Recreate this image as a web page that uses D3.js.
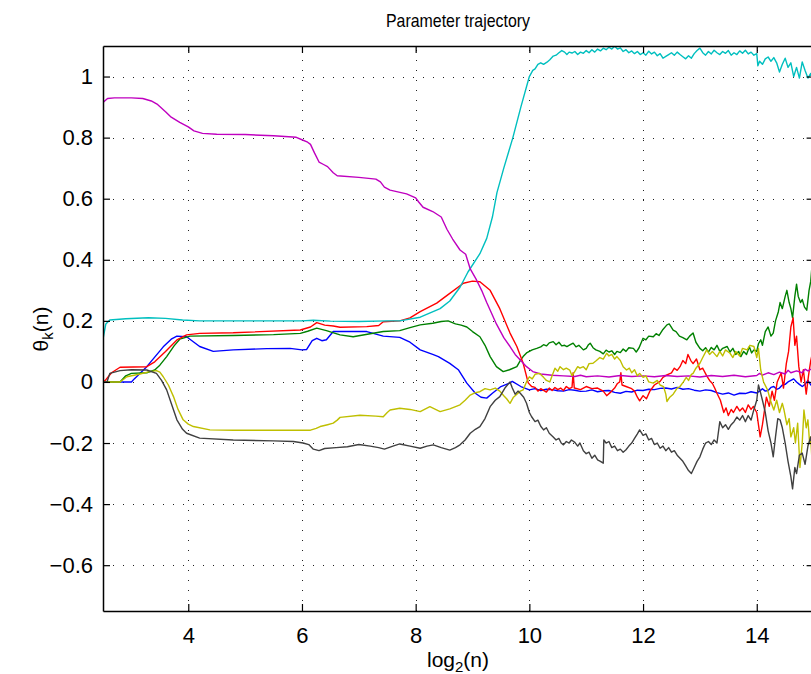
<!DOCTYPE html>
<html><head><meta charset="utf-8">
<script src="https://cdn.jsdelivr.net/npm/d3@7"></script>
<style>body{margin:0;background:#fff}text{font-family:"Liberation Sans",Arial,Helvetica,sans-serif;fill:#000}</style>
</head><body>
<svg id="c" width="811" height="674"></svg>
<script>
// ---------- data ----------
const xTicks = [4, 6, 8, 10, 12, 14];
const yTicks = [-0.6, -0.4, -0.2, 0, 0.2, 0.4, 0.6, 0.8, 1];
const xDomain = [2.5, 15];
const yDomain = [-0.75, 1.1];
const seriesNames = ["blue", "green", "red", "cyan", "magenta", "yellow", "gray"];
const seriesColors = ["#0000ff", "#008000", "#ff0000", "#00bfbf", "#bf00bf", "#bfbf00", "#404040"];

const blue = [[2.5,0],[3.0,0],[3.05,0.01],[3.27,0.05],[3.56,0.115],[3.7,0.14],[3.8,0.15],[3.97,0.148],[4.1,0.13],[4.2,0.116],[4.44,0.1],[4.79,0.105],[5.38,0.109],[5.79,0.11],[6.0,0.105],[6.08,0.106],[6.18,0.135],[6.26,0.143],[6.35,0.135],[6.43,0.138],[6.55,0.165],[7.14,0.165],[7.43,0.15],[7.72,0.146],[7.9,0.13],[8.08,0.105],[8.3,0.09],[8.4,0.083],[8.6,0.061],[8.75,0.04],[8.9,-0.004],[9.05,-0.037],[9.15,-0.05],[9.25,-0.053],[9.35,-0.037],[9.5,-0.015],[9.65,-0.004],[9.7,0.002],[9.85,-0.015],[10.0,-0.026],[10.1,-0.022],[10.2,-0.028],[10.3,-0.024],[10.4,-0.025],[10.5,-0.029],[10.6,-0.03],[10.7,-0.025],[10.8,-0.027],[10.9,-0.031],[11.0,-0.03],[11.1,-0.026],[11.2,-0.032],[11.3,-0.029],[11.4,-0.028],[11.5,-0.034],[11.6,-0.037],[11.7,-0.031],[11.8,-0.033],[11.9,-0.027],[12.0,-0.028],[12.1,-0.024],[12.2,-0.025],[12.3,-0.021],[12.4,-0.02],[12.5,-0.023],[12.6,-0.018],[12.7,-0.024],[12.8,-0.022],[12.9,-0.027],[13.0,-0.03],[13.1,-0.026],[13.2,-0.028],[13.3,-0.035],[13.4,-0.04],[13.5,-0.036],[13.6,-0.043],[13.7,-0.037],[13.8,-0.038],[13.9,-0.032],[14.0,-0.036],[14.05,-0.03],[14.1,-0.022],[14.15,-0.03],[14.2,-0.028],[14.25,-0.018],[14.3,-0.015],[14.35,-0.024],[14.4,-0.02],[14.45,-0.01],[14.5,-0.008],[14.55,0.0],[14.6,0.005],[14.65,0.01],[14.7,0.0],[14.75,-0.008],[14.8,-0.015],[14.85,-0.008],[14.9,0.005],[14.95,-0.01],[15.0,0.0]];

const green = [[2.5,0],[2.8,0],[2.9,0.02],[3.0,0.028],[3.27,0.03],[3.41,0.039],[3.5,0.055],[3.62,0.083],[3.75,0.118],[3.85,0.14],[4.03,0.15],[4.79,0.152],[5.5,0.155],[5.97,0.159],[6.1,0.166],[6.26,0.176],[6.43,0.168],[6.67,0.154],[6.9,0.148],[7.2,0.158],[7.43,0.165],[7.72,0.168],[7.9,0.178],[8.08,0.187],[8.3,0.192],[8.45,0.198],[8.57,0.2],[8.7,0.19],[8.8,0.186],[8.9,0.18],[9.0,0.165],[9.13,0.148],[9.22,0.12],[9.31,0.083],[9.42,0.05],[9.54,0.034],[9.65,0.04],[9.78,0.05],[9.84,0.07],[9.89,0.083],[9.95,0.095],[10.05,0.105],[10.13,0.11],[10.2,0.115],[10.25,0.122],[10.3,0.118],[10.35,0.128],[10.42,0.132],[10.47,0.122],[10.52,0.13],[10.57,0.118],[10.62,0.12],[10.66,0.116],[10.72,0.122],[10.77,0.127],[10.82,0.115],[10.87,0.12],[10.95,0.105],[11.0,0.11],[11.04,0.122],[11.07,0.127],[11.12,0.112],[11.17,0.105],[11.24,0.1],[11.3,0.092],[11.35,0.104],[11.4,0.098],[11.45,0.102],[11.5,0.09],[11.54,0.1],[11.6,0.096],[11.65,0.108],[11.7,0.1],[11.75,0.112],[11.83,0.11],[11.88,0.098],[11.93,0.112],[12.0,0.143],[12.05,0.138],[12.1,0.15],[12.18,0.148],[12.23,0.158],[12.28,0.152],[12.35,0.172],[12.42,0.187],[12.46,0.19],[12.53,0.17],[12.58,0.165],[12.64,0.15],[12.7,0.145],[12.77,0.138],[12.82,0.15],[12.88,0.16],[12.93,0.13],[13.0,0.11],[13.05,0.102],[13.1,0.112],[13.15,0.098],[13.2,0.113],[13.25,0.105],[13.3,0.12],[13.35,0.1],[13.4,0.11],[13.48,0.116],[13.53,0.098],[13.58,0.11],[13.63,0.09],[13.68,0.1],[13.72,0.083],[13.77,0.1],[13.82,0.09],[13.87,0.115],[13.91,0.095],[13.95,0.105],[14.0,0.1],[14.03,0.125],[14.07,0.138],[14.1,0.12],[14.15,0.165],[14.2,0.18],[14.25,0.15],[14.29,0.16],[14.33,0.2],[14.38,0.23],[14.41,0.26],[14.45,0.24],[14.5,0.28],[14.53,0.3],[14.57,0.26],[14.6,0.24],[14.63,0.21],[14.67,0.28],[14.7,0.32],[14.73,0.28],[14.77,0.26],[14.8,0.27],[14.84,0.245],[14.88,0.235],[14.92,0.3],[14.95,0.33],[14.97,0.377],[15.0,0.21]];

const red = [[2.5,0],[2.54,0.005],[2.65,0.03],[2.8,0.048],[3.27,0.05],[3.41,0.066],[3.6,0.1],[3.8,0.1375],[3.97,0.154],[4.2,0.159],[4.79,0.161],[5.97,0.17],[6.15,0.18],[6.26,0.194],[6.4,0.186],[6.55,0.183],[6.67,0.179],[7.14,0.181],[7.35,0.185],[7.43,0.197],[7.72,0.2],[7.9,0.21],[8.08,0.23],[8.37,0.258],[8.6,0.29],[8.84,0.323],[9.0,0.33],[9.13,0.328],[9.31,0.30],[9.48,0.24],[9.66,0.16],[9.78,0.116],[9.89,0.062],[9.98,-0.003],[10.04,-0.015],[10.1,-0.018],[10.15,-0.03],[10.2,-0.022],[10.3,-0.033],[10.35,-0.02],[10.4,-0.028],[10.45,-0.018],[10.5,-0.025],[10.55,-0.02],[10.6,-0.028],[10.65,-0.015],[10.7,-0.022],[10.75,-0.018],[10.77,0.03],[10.79,-0.02],[10.9,-0.025],[11.0,-0.015],[11.1,-0.022],[11.2,-0.02],[11.3,-0.03],[11.36,-0.045],[11.42,-0.035],[11.5,-0.02],[11.55,-0.005],[11.59,0.0],[11.61,0.03],[11.63,-0.01],[11.7,-0.015],[11.8,-0.022],[11.85,-0.03],[11.9,-0.05],[11.94,-0.062],[12.0,-0.045],[12.06,-0.055],[12.12,-0.03],[12.2,-0.01],[12.3,0.002],[12.35,0.015],[12.42,0.023],[12.5,0.03],[12.55,0.045],[12.6,0.038],[12.65,0.05],[12.7,0.07],[12.75,0.06],[12.79,0.09],[12.84,0.07],[12.88,0.06],[12.94,0.075],[13.0,0.04],[13.05,0.045],[13.12,0.02],[13.17,0.005],[13.22,-0.005],[13.26,-0.02],[13.3,-0.037],[13.36,-0.06],[13.42,-0.1],[13.46,-0.085],[13.5,-0.11],[13.55,-0.09],[13.59,-0.1],[13.65,-0.08],[13.7,-0.095],[13.75,-0.085],[13.8,-0.1],[13.85,-0.075],[13.9,-0.09],[13.94,-0.08],[14.0,-0.1],[14.06,-0.18],[14.1,-0.14],[14.17,-0.05],[14.22,-0.08],[14.27,-0.03],[14.31,-0.06],[14.36,0.0],[14.43,0.03],[14.47,-0.02],[14.52,0.06],[14.56,0.1],[14.6,0.18],[14.64,0.21],[14.67,0.12],[14.7,0.15],[14.74,0.05],[14.78,0.0],[14.82,0.04],[14.87,-0.04],[14.91,0.02],[14.95,0.07],[14.98,0.095],[15.0,0.1]];

const cyan = [[2.5,0.14],[2.55,0.19],[2.62,0.203],[2.9,0.207],[3.3,0.21],[3.6,0.208],[3.9,0.203],[4.2,0.2],[5,0.2],[6,0.2],[6.2,0.202],[6.5,0.199],[7,0.198],[7.5,0.2],[7.72,0.2],[8.08,0.212],[8.43,0.24],[8.6,0.265],[8.78,0.31],[8.92,0.36],[9.13,0.42],[9.25,0.47],[9.35,0.54],[9.43,0.62],[9.55,0.7],[9.71,0.80],[9.85,0.9],[10.0,1.0],[10.06,1.02],[10.1,1.025],[10.15,1.04],[10.2,1.045],[10.25,1.04],[10.31,1.047],[10.36,1.055],[10.42,1.067],[10.47,1.07],[10.52,1.078],[10.57,1.085],[10.62,1.08],[10.66,1.072],[10.7,1.08],[10.75,1.077],[10.8,1.082],[10.85,1.072],[10.9,1.08],[10.95,1.076],[11.0,1.085],[11.05,1.078],[11.1,1.088],[11.15,1.08],[11.2,1.09],[11.25,1.084],[11.3,1.093],[11.35,1.088],[11.4,1.096],[11.45,1.09],[11.5,1.099],[11.55,1.09],[11.6,1.094],[11.65,1.082],[11.7,1.088],[11.75,1.078],[11.8,1.084],[11.85,1.075],[11.9,1.082],[11.95,1.072],[12.0,1.078],[12.05,1.07],[12.1,1.083],[12.15,1.074],[12.2,1.08],[12.25,1.068],[12.3,1.075],[12.35,1.06],[12.4,1.066],[12.45,1.072],[12.5,1.078],[12.55,1.07],[12.6,1.08],[12.65,1.072],[12.7,1.065],[12.75,1.058],[12.8,1.068],[12.85,1.06],[12.9,1.075],[12.95,1.085],[13.0,1.093],[13.05,1.078],[13.1,1.07],[13.15,1.082],[13.2,1.074],[13.25,1.086],[13.3,1.078],[13.35,1.072],[13.4,1.082],[13.45,1.076],[13.5,1.085],[13.55,1.07],[13.6,1.078],[13.65,1.072],[13.7,1.084],[13.75,1.076],[13.8,1.086],[13.85,1.074],[13.9,1.08],[13.95,1.07],[14.0,1.075],[14.02,1.035],[14.05,1.05],[14.1,1.04],[14.15,1.058],[14.2,1.064],[14.25,1.05],[14.3,1.062],[14.35,1.045],[14.4,1.015],[14.45,1.04],[14.5,1.06],[14.55,1.03],[14.6,1.045],[14.65,1.0],[14.7,1.03],[14.75,0.995],[14.8,1.048],[14.85,1.02],[14.9,0.995],[14.95,1.01],[15.0,0.985]];

const magenta = [[2.5,0.915],[2.58,0.928],[2.7,0.93],[3.0,0.93],[3.2,0.928],[3.35,0.92],[3.45,0.91],[3.6,0.885],[3.7,0.867],[3.85,0.85],[4.0,0.835],[4.1,0.822],[4.25,0.814],[4.5,0.811],[5.0,0.81],[5.5,0.806],[5.9,0.801],[6.0,0.793],[6.1,0.785],[6.15,0.778],[6.22,0.75],[6.3,0.72],[6.38,0.712],[6.45,0.705],[6.55,0.685],[6.62,0.675],[7.0,0.67],[7.3,0.664],[7.38,0.655],[7.45,0.638],[7.55,0.628],[7.84,0.616],[8.0,0.603],[8.05,0.59],[8.13,0.572],[8.3,0.558],[8.45,0.54],[8.55,0.5],[8.65,0.468],[8.78,0.432],[8.88,0.418],[8.96,0.37],[9.07,0.334],[9.16,0.30],[9.25,0.26],[9.42,0.19],[9.55,0.145],[9.66,0.116],[9.75,0.09],[9.84,0.072],[9.95,0.05],[10.06,0.034],[10.2,0.026],[10.4,0.022],[10.6,0.02],[10.8,0.018],[10.9,0.022],[11.0,0.017],[11.2,0.02],[11.4,0.016],[11.6,0.021],[11.8,0.018],[12.0,0.02],[12.2,0.017],[12.4,0.021],[12.6,0.018],[12.8,0.02],[13.0,0.016],[13.2,0.021],[13.4,0.018],[13.6,0.022],[13.8,0.017],[14.0,0.021],[14.05,0.028],[14.1,0.022],[14.2,0.03],[14.3,0.024],[14.4,0.032],[14.5,0.026],[14.55,0.038],[14.6,0.03],[14.7,0.036],[14.8,0.03],[14.85,0.042],[14.9,0.036],[15.0,0.046]];

const yellow = [[2.5,0],[2.8,0],[2.92,0.017],[3.15,0.026],[3.3,0.033],[3.44,0.037],[3.5,0.032],[3.56,0.017],[3.65,-0.01],[3.74,-0.048],[3.82,-0.09],[3.91,-0.124],[4.0,-0.138],[4.09,-0.146],[4.38,-0.157],[4.79,-0.158],[6.15,-0.158],[6.25,-0.152],[6.32,-0.146],[6.45,-0.14],[6.55,-0.135],[6.62,-0.125],[6.67,-0.116],[7.02,-0.109],[7.3,-0.112],[7.43,-0.114],[7.5,-0.1],[7.55,-0.092],[7.72,-0.086],[7.9,-0.09],[8.08,-0.097],[8.25,-0.081],[8.43,-0.097],[8.6,-0.088],[8.78,-0.075],[8.87,-0.06],[8.96,-0.043],[9.05,-0.035],[9.13,-0.032],[9.22,-0.022],[9.31,-0.026],[9.4,-0.02],[9.48,-0.03],[9.55,-0.045],[9.6,-0.055],[9.66,-0.07],[9.72,-0.05],[9.78,-0.04],[9.84,-0.03],[9.89,-0.026],[9.95,0.0],[10.0,0.017],[10.05,0.01],[10.1,0.025],[10.18,0.028],[10.25,0.015],[10.3,0.005],[10.36,0.0],[10.4,0.02],[10.45,0.045],[10.5,0.035],[10.54,0.05],[10.6,0.04],[10.65,0.045],[10.71,0.039],[10.75,0.02],[10.8,0.035],[10.85,0.05],[10.89,0.045],[10.95,0.05],[11.0,0.04],[11.05,0.06],[11.12,0.061],[11.18,0.07],[11.24,0.08],[11.3,0.075],[11.36,0.094],[11.4,0.085],[11.45,0.09],[11.5,0.075],[11.54,0.083],[11.6,0.07],[11.65,0.05],[11.71,0.039],[11.76,0.045],[11.8,0.03],[11.85,0.04],[11.9,0.02],[11.94,0.028],[12.0,0.015],[12.05,0.02],[12.1,0.0],[12.18,-0.004],[12.25,0.005],[12.3,-0.01],[12.36,-0.015],[12.4,-0.04],[12.42,-0.064],[12.47,-0.05],[12.53,-0.04],[12.6,-0.02],[12.65,-0.015],[12.71,0.0],[12.76,0.015],[12.8,0.005],[12.85,0.025],[12.88,0.028],[12.93,0.045],[13.0,0.061],[13.05,0.08],[13.12,0.105],[13.17,0.09],[13.22,0.1],[13.3,0.083],[13.35,0.1],[13.4,0.085],[13.45,0.105],[13.53,0.094],[13.58,0.08],[13.63,0.1],[13.7,0.085],[13.75,0.11],[13.83,0.105],[13.88,0.12],[13.95,0.116],[14.0,0.08],[14.03,0.11],[14.07,0.039],[14.12,0.0],[14.19,-0.026],[14.24,-0.06],[14.3,-0.092],[14.35,-0.06],[14.4,-0.1],[14.45,-0.07],[14.48,-0.092],[14.53,-0.14],[14.57,-0.12],[14.6,-0.18],[14.65,-0.15],[14.68,-0.2],[14.72,-0.135],[14.76,-0.28],[14.8,-0.2],[14.83,-0.092],[14.87,-0.15],[14.9,-0.124],[14.93,-0.2],[14.95,-0.18],[14.98,-0.29],[15.0,-0.22]];

const gray = [[2.5,0],[2.57,0],[2.62,0.028],[2.8,0.037],[3.0,0.04],[3.27,0.039],[3.44,0.028],[3.53,0.005],[3.62,-0.026],[3.7,-0.07],[3.8,-0.124],[3.9,-0.155],[3.97,-0.168],[4.2,-0.184],[4.79,-0.19],[5.5,-0.193],[5.85,-0.195],[6.02,-0.2],[6.12,-0.205],[6.2,-0.22],[6.3,-0.225],[6.4,-0.218],[6.6,-0.215],[6.8,-0.212],[7.0,-0.205],[7.2,-0.21],[7.35,-0.215],[7.45,-0.22],[7.6,-0.21],[7.72,-0.203],[7.9,-0.21],[8.08,-0.217],[8.2,-0.21],[8.31,-0.206],[8.45,-0.215],[8.6,-0.223],[8.7,-0.215],[8.78,-0.206],[8.87,-0.19],[8.96,-0.168],[9.05,-0.155],[9.13,-0.146],[9.22,-0.12],[9.31,-0.081],[9.4,-0.06],[9.48,-0.048],[9.57,-0.02],[9.66,0.0],[9.7,-0.02],[9.75,-0.04],[9.8,-0.03],[9.84,-0.037],[9.9,-0.05],[9.95,-0.07],[10.0,-0.1],[10.04,-0.114],[10.1,-0.13],[10.15,-0.125],[10.2,-0.145],[10.25,-0.157],[10.3,-0.15],[10.35,-0.168],[10.42,-0.18],[10.47,-0.19],[10.52,-0.185],[10.56,-0.2],[10.6,-0.206],[10.65,-0.195],[10.7,-0.2],[10.74,-0.19],[10.8,-0.198],[10.85,-0.21],[10.89,-0.2],[10.95,-0.225],[11.0,-0.235],[11.05,-0.23],[11.1,-0.25],[11.15,-0.24],[11.2,-0.255],[11.25,-0.26],[11.3,-0.266],[11.31,-0.19],[11.35,-0.2],[11.4,-0.195],[11.45,-0.215],[11.5,-0.21],[11.55,-0.225],[11.6,-0.22],[11.65,-0.23],[11.7,-0.222],[11.75,-0.21],[11.8,-0.2],[11.85,-0.185],[11.9,-0.17],[11.94,-0.157],[12.0,-0.175],[12.05,-0.17],[12.1,-0.19],[12.15,-0.185],[12.2,-0.205],[12.25,-0.2],[12.3,-0.217],[12.35,-0.21],[12.4,-0.225],[12.45,-0.215],[12.5,-0.23],[12.55,-0.225],[12.6,-0.24],[12.65,-0.25],[12.7,-0.26],[12.75,-0.275],[12.8,-0.29],[12.85,-0.3],[12.9,-0.28],[12.95,-0.26],[13.0,-0.245],[13.05,-0.22],[13.1,-0.2],[13.15,-0.195],[13.2,-0.205],[13.25,-0.19],[13.3,-0.2],[13.35,-0.13],[13.4,-0.15],[13.45,-0.14],[13.5,-0.155],[13.55,-0.14],[13.6,-0.13],[13.65,-0.115],[13.7,-0.125],[13.75,-0.11],[13.8,-0.13],[13.85,-0.11],[13.9,-0.125],[13.95,-0.09],[14.0,-0.06],[14.03,-0.01],[14.06,-0.03],[14.1,-0.06],[14.15,-0.1],[14.2,-0.16],[14.25,-0.2],[14.29,-0.245],[14.33,-0.18],[14.37,-0.12],[14.41,-0.124],[14.45,-0.15],[14.5,-0.2],[14.55,-0.26],[14.6,-0.31],[14.63,-0.35],[14.67,-0.28],[14.7,-0.3],[14.75,-0.24],[14.8,-0.233],[14.85,-0.27],[14.9,-0.21],[14.95,-0.18],[15.0,-0.24]];

const seriesData = [blue, green, red, cyan, magenta, yellow, gray];

// ---------- drawing ----------
const L = 103, R = 813.6, T = 46, B = 611;
const svg = d3.select("#c");
const x = d3.scaleLinear().domain(xDomain).range([L, R]);
const y = d3.scaleLinear().domain(yDomain).range([B, T]);

svg.append("rect").attr("width", 811).attr("height", 674).attr("fill", "#fff");

svg.append("defs").append("clipPath").attr("id", "clip")
  .append("rect").attr("x", L).attr("y", T).attr("width", R - L).attr("height", B - T);

// grid
const grid = svg.append("g").attr("stroke", "#222").attr("stroke-width", 1)
  .attr("stroke-dasharray", "1,9").attr("shape-rendering", "crispEdges");
grid.selectAll(".gx").data(xTicks).join("line")
  .attr("x1", d => Math.round(x(d)) + 0.5).attr("x2", d => Math.round(x(d)) + 0.5)
  .attr("y1", B).attr("y2", T);
grid.selectAll(".gy").data(yTicks).join("line")
  .attr("y1", d => Math.round(y(d)) + 0.5).attr("y2", d => Math.round(y(d)) + 0.5)
  .attr("x1", L).attr("x2", R);

// lines
const line = d3.line().x(d => x(d[0])).y(d => y(d[1]));
const plot = svg.append("g").attr("clip-path", "url(#clip)");
plot.selectAll("path").data(seriesData).join("path")
  .attr("d", line).attr("fill", "none")
  .attr("stroke", (d, i) => seriesColors[i])
  .attr("stroke-width", 1.4).attr("stroke-linejoin", "round");

// axes
const fmt = d3.format("~g");
const xAxis = svg.append("g").attr("transform", `translate(0,${B})`)
  .call(d3.axisBottom(x).tickValues(xTicks).tickFormat(fmt).tickSize(-7).tickSizeOuter(0).tickPadding(16));
const yAxis = svg.append("g").attr("transform", `translate(${L},0)`)
  .call(d3.axisLeft(y).tickValues(yTicks).tickFormat(fmt).tickSize(-7).tickSizeOuter(0).tickPadding(10));
const xTop = svg.append("g").attr("transform", `translate(0,${T})`)
  .call(d3.axisTop(x).tickValues(xTicks).tickFormat("").tickSize(-7).tickSizeOuter(0));
const yRight = svg.append("g").attr("transform", `translate(${R},0)`)
  .call(d3.axisRight(y).tickValues(yTicks).tickFormat("").tickSize(-7).tickSizeOuter(0));
[xAxis, yAxis, xTop, yRight].forEach(g => {
  g.selectAll("path.domain").attr("stroke", "#000").attr("stroke-width", 1.5);
  g.selectAll(".tick line").attr("stroke", "#000").attr("stroke-width", 1.2);
  g.selectAll("text").attr("font-size", 22).attr("font-family", "Liberation Sans, Arial, sans-serif").attr("fill", "#000");
});

// title & labels
svg.append("text").attr("x", 458).attr("y", 27).attr("text-anchor", "middle")
  .attr("font-size", 19).attr("textLength", 144).attr("lengthAdjust", "spacingAndGlyphs")
  .text("Parameter trajectory");

const xl = svg.append("text").attr("x", 458).attr("y", 667).attr("text-anchor", "middle").attr("font-size", 21);
xl.append("tspan").text("log");
xl.append("tspan").attr("font-size", 15).attr("dy", 5).text("2");
xl.append("tspan").attr("dy", -5).text("(n)");

const yl = svg.append("text").attr("transform", "translate(48,329) rotate(-90)")
  .attr("text-anchor", "middle").attr("font-size", 21);
yl.append("tspan").text("θ");
yl.append("tspan").attr("font-size", 15).attr("dy", 5).text("k");
yl.append("tspan").attr("dy", -5).text("(n)");
</script>
</body></html>
